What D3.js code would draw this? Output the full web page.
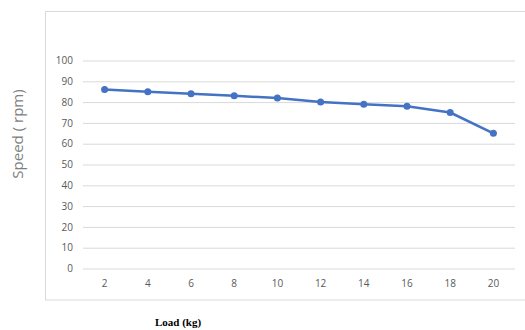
<!DOCTYPE html>
<html>
<head>
<meta charset="utf-8">
<script src="https://cdn.jsdelivr.net/npm/d3@7"></script>
<style>
  html, body { margin: 0; padding: 0; background: #fff; }
  svg { display: block; }
</style>
</head>
<body>
<svg id="chart" width="525" height="330"></svg>
<script>
// Load vs. speed measurements
const loads = [2, 4, 6, 8, 10, 12, 14, 16, 18, 20];
const speeds = [86, 85, 84, 83, 82, 80, 79, 78, 75, 65];
const yTicks = [0, 10, 20, 30, 40, 50, 60, 70, 80, 90, 100];
const xTitle = "Load (kg)";
const yTitle = "Speed ( rpm)";

const svg = d3.select("#chart");
const plot = { left: 83, right: 515, top: 60.5, bottom: 268.5 };

// Outer chart frame
svg.append("rect")
  .attr("x", 45.5).attr("y", 11.5)
  .attr("width", 490).attr("height", 288.5)
  .attr("fill", "none").attr("stroke", "#d9d9d9").attr("stroke-width", 1);

const x = d3.scaleBand().domain(loads).range([plot.left, plot.right]);
const y = d3.scaleLinear().domain([0, 100]).range([plot.bottom, plot.top]);

// Horizontal gridlines + y labels
const yAxis = d3.axisLeft(y).tickValues(yTicks)
  .tickSize(-(plot.right - plot.left)).tickPadding(10);
const gy = svg.append("g").attr("transform", `translate(${plot.left},0)`).call(yAxis);
gy.select(".domain").remove();
gy.selectAll(".tick line").attr("stroke", "#d9d9d9").attr("stroke-width", 1);
gy.selectAll(".tick text")
  .attr("fill", "#595959")
  .style("font-family", "'Open Sans', sans-serif")
  .style("font-size", "10px");

// Category labels
const xAxis = d3.axisBottom(x).tickSize(0).tickPadding(11);
const gx = svg.append("g").attr("transform", `translate(0,${plot.bottom})`).call(xAxis);
gx.select(".domain").remove();
gx.selectAll(".tick text")
  .attr("fill", "#595959")
  .style("font-family", "'Open Sans', sans-serif")
  .style("font-size", "10px");

// Series line
const pts = loads.map((l, i) => ({ l, v: speeds[i] }));
const line = d3.line()
  .x(d => x(d.l) + x.bandwidth() / 2)
  .y(d => y(d.v));
svg.append("path")
  .datum(pts)
  .attr("d", line)
  .attr("fill", "none")
  .attr("stroke", "#4472c4")
  .attr("stroke-width", 2.5)
  .attr("stroke-linejoin", "round");

svg.selectAll("circle.pt")
  .data(pts)
  .enter().append("circle")
  .attr("class", "pt")
  .attr("cx", d => x(d.l) + x.bandwidth() / 2)
  .attr("cy", d => y(d.v))
  .attr("r", 3.5)
  .attr("fill", "#4472c4");

// Axis titles
svg.append("text")
  .attr("transform", "translate(23,134) rotate(-90)")
  .attr("text-anchor", "middle")
  .attr("fill", "#7f7f7f")
  .style("font-family", "'Open Sans', sans-serif")
  .style("font-size", "15px")
  .text(yTitle);

svg.append("text")
  .attr("x", 178).attr("y", 326)
  .attr("text-anchor", "middle")
  .attr("fill", "#000")
  .style("font-family", "'Liberation Serif', serif")
  .style("font-weight", "bold")
  .style("font-size", "11px")
  .text(xTitle);
</script>
</body>
</html>
